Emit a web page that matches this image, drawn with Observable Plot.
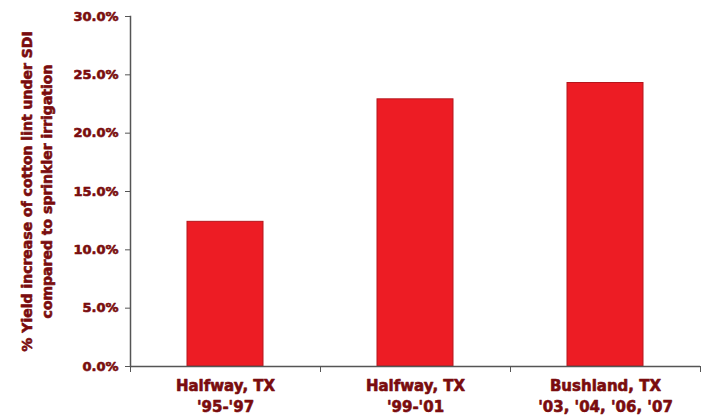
<!DOCTYPE html>
<html>
<head>
<meta charset="utf-8">
<script src="https://cdn.jsdelivr.net/npm/d3@7"></script>
<script src="https://cdn.jsdelivr.net/npm/@observablehq/plot@0.6"></script>
<style>
  html, body { margin: 0; padding: 0; background: #fff; }
</style>
</head>
<body>
<div id="chart"></div>
<script>
const categories = ["Halfway, TX\n'95-'97", "Halfway, TX\n'99-'01", "Bushland, TX\n'03, '04, '06, '07"];
const values = [0.124, 0.229, 0.243];
const yTicks = [0, 0.05, 0.10, 0.15, 0.20, 0.25, 0.30];
const yLabel = "% Yield increase of cotton lint under SDI\ncompared to sprinkler irrigation";

const data = categories.map((c, i) => ({category: c, value: values[i]}));
const textColor = "#7a0c0e";
const axisColor = "#555";

const chart = Plot.plot({
  width: 710,
  height: 415,
  marginLeft: 130,
  marginRight: 10,
  marginTop: 16,
  marginBottom: 49,
  style: {fontFamily: "'DejaVu Sans', sans-serif", fontWeight: "bold", background: "#fff"},
  x: {domain: categories, paddingInner: 0.6, paddingOuter: 0.3, label: null},
  y: {domain: [0, 0.30], label: null},
  marks: [
    Plot.barY(data, {x: "category", y: "value", fill: "#ed1c24", stroke: "#b5161c", strokeWidth: 1}),
    Plot.axisY({ticks: yTicks, tickFormat: d3.format(".1%"), tickSize: 5, tickPadding: 7,
      fontSize: 13, fontWeight: "bold", fill: textColor, stroke: axisColor, label: null,
      textStroke: textColor, textStrokeWidth: 0.6}),
    Plot.axisX({tickSize: 6, tickFormat: () => "", dx: -95, stroke: axisColor, label: null}),
    Plot.axisX({tickSize: 6, tickFormat: () => "", dx: 95, stroke: axisColor, label: null}),
    Plot.axisX({tickSize: 0, tickPadding: 10, fontSize: 15, fontWeight: "bold", fill: textColor,
      lineHeight: 1.4, label: null, textStroke: textColor, textStrokeWidth: 0.6}),
    Plot.ruleY([0], {stroke: axisColor, strokeWidth: 1.5}),
    Plot.frame({anchor: "left", stroke: axisColor, strokeWidth: 1.5}),
    Plot.text([yLabel], {frameAnchor: "left", dx: -95, rotate: -90, fontSize: 14, fontWeight: "bold",
      fill: textColor, stroke: textColor, strokeWidth: 0.6, lineHeight: 1.45, textAnchor: "middle"})
  ]
});
document.getElementById("chart").appendChild(chart);
</script>
</body>
</html>
